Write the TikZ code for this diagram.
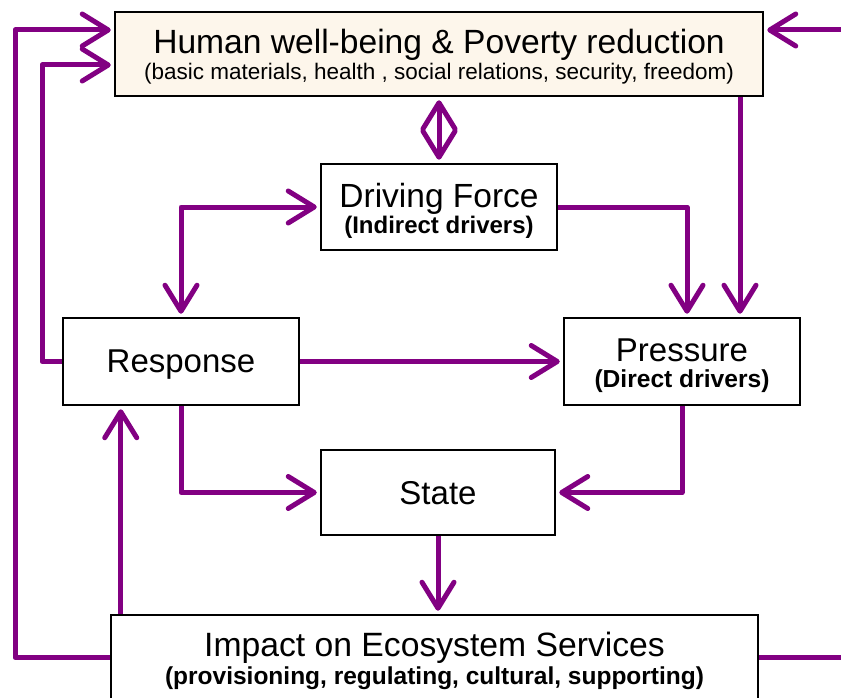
\documentclass[tikz,border=0pt]{standalone}
\usepackage{fontspec}
\setmainfont{Liberation Sans}
\usetikzlibrary{arrows.meta,calc,shadows}
\definecolor{arrowpurple}{RGB}{130,0,130}
\definecolor{cream}{RGB}{253,246,235}
\begin{document}
\begin{tikzpicture}[x=1pt,y=-1pt,
  box/.style={draw=black, line width=2.5pt, fill=white, inner sep=0pt, align=center,
    drop shadow={shadow xshift=1.2pt,shadow yshift=-1.2pt,fill=black!50,opacity=0.6}},
  single/.style={font=\fontsize{33}{36}\selectfont, text depth=0pt},
  flowline/.style={draw=arrowpurple, line width=5pt, line join=round},
  flow/.style={flowline, -{Straight Barb[length=26pt,width=32pt,line cap=round,line join=round]}, shorten >=3pt},
  dflow/.style={flowline, {Straight Barb[length=26pt,width=32pt,line cap=round,line join=round]}-{Straight Barb[length=26pt,width=32pt,line cap=round,line join=round]}, shorten >=3pt, shorten <=3pt}
]
\useasboundingbox (0,0) rectangle (841,698);

\node[box, fill=cream, minimum width=648pt, minimum height=84pt] (top) at (439,54)
  {\fontsize{33.6}{36}\selectfont\rule{0pt}{29pt}Human well-being \& Poverty reduction\\[2pt]
   \fontsize{22.5}{28}\selectfont (basic materials, health , social relations, security, freedom)};
\node[box, minimum width=236pt, minimum height=86pt] (df) at (439,207)
  {\fontsize{33.5}{36}\selectfont\rule{0pt}{32pt}Driving Force\\[1pt]
   \bfseries\fontsize{24}{30}\selectfont (Indirect drivers)};
\node[box, single, minimum width=236pt, minimum height=87pt] (resp) at (181,361.5) {Response};
\node[box, minimum width=236pt, minimum height=87pt] (press) at (682,361.5)
  {\fontsize{33}{36}\selectfont\rule{0pt}{31pt}Pressure\\[6pt]
   \bfseries\fontsize{24.6}{30}\selectfont (Direct drivers)};
\node[box, single, minimum width=234pt, minimum height=85pt] (state) at (438,492.5) {State};
\node[box, minimum width=647pt, minimum height=85pt] (imp) at (434.5,657.5)
  {\fontsize{33.7}{36}\selectfont\rule{0pt}{31pt}Impact on Ecosystem Services\\[3pt]
   \bfseries\fontsize{24.5}{31}\selectfont (provisioning, regulating, cultural, supporting)};

% helper coordinates
\coordinate (ll1) at (15,0);
\coordinate (ll2) at (42,0);
\coordinate (rr) at (850,0);
\coordinate (tA) at ([yshift=24pt]top.west);
\coordinate (tB) at ([yshift=-11pt]top.west);
\coordinate (tC) at ([yshift=24pt]top.east);
\coordinate (pA) at ([xshift=5pt]press.north);
\coordinate (pB) at ([xshift=58pt]press.north);
\coordinate (iA) at ([xshift=11pt]imp.north west);

% connectors
\draw[flow] (imp.west) -| (ll1 |- tA) -- (tA);
\draw[flow] (resp.west) -| (ll2 |- tB) -- (tB);
\draw[flowline] (imp.east) -- (rr |- imp.east);
\draw[flow] (rr |- tC) -- (tC);
\draw[dflow] (top.south) -- (df.north);
\draw[dflow] (resp.north) |- (df.west);
\draw[flow] (df.east) -| (pA);
\draw[flow] (pB |- top.south) -- (pB);
\draw[flow] (resp.east) -- (press.west);
\draw[flow] (resp.south) |- (state.west);
\draw[flow] (press.south) |- (state.east);
\draw[flow] (state.south) -- (state.south |- imp.north);
\draw[flow] (iA) -- (iA |- resp.south);
\end{tikzpicture}
\end{document}
